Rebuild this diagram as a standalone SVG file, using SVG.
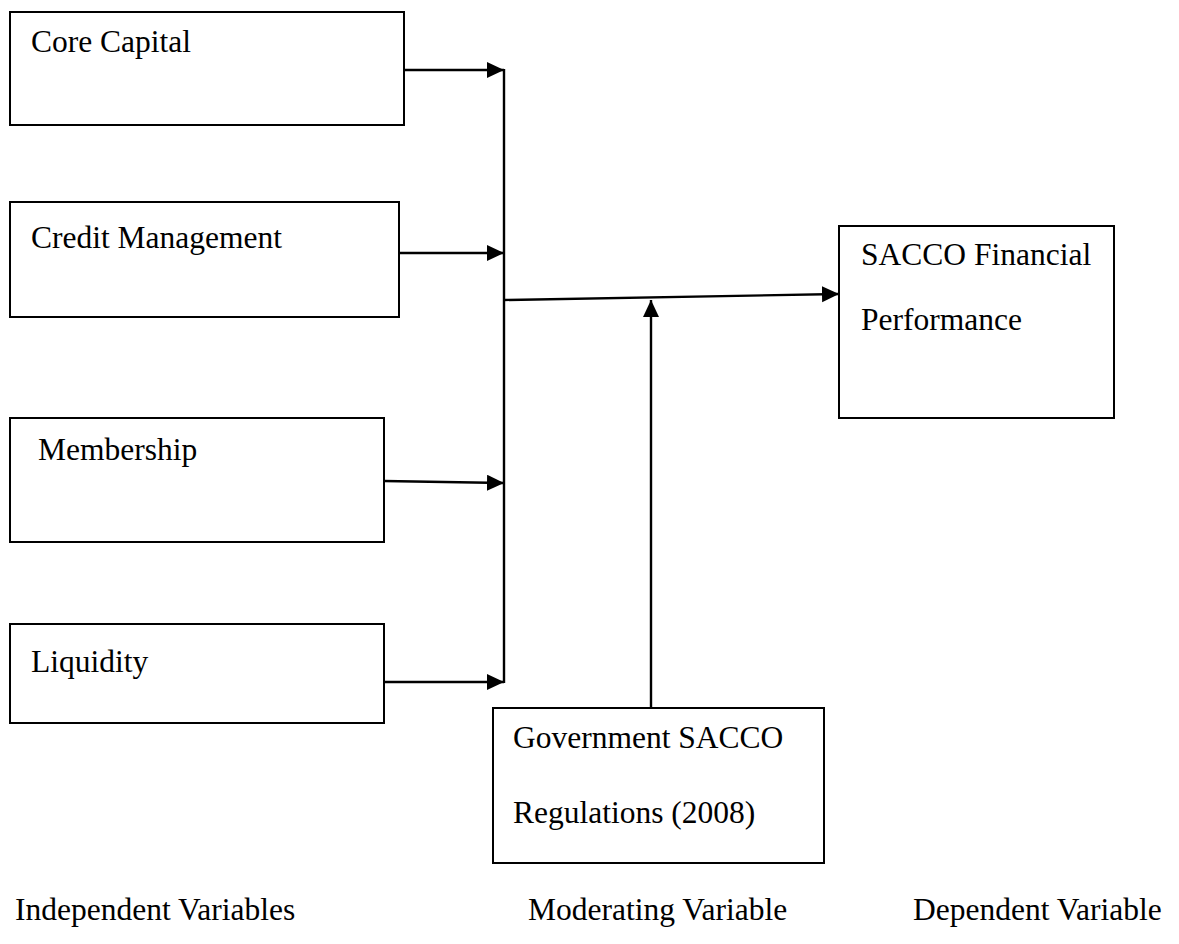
<svg xmlns="http://www.w3.org/2000/svg" width="1179" height="944" viewBox="0 0 1179 944">
<style>
.box{fill:#fff;stroke:#000;stroke-width:2}
.t{font-family:"Liberation Serif","Times New Roman",serif;font-size:31.5px;fill:#000}
.ln{fill:none;stroke:#000;stroke-width:2.4}
</style>
<defs>
<marker id="ah" markerUnits="userSpaceOnUse" markerWidth="20" markerHeight="18" refX="17" refY="8" orient="auto">
<path d="M0,0 L17,8 L0,16 Z" fill="#000"/>
</marker>
</defs>
<rect width="1179" height="944" fill="#fff"/>
<g id="core-capital">
<rect class="box" x="10" y="12" width="394" height="113"/>
<text class="t" x="31" y="52">Core Capital</text>
</g>
<g id="credit-management">
<rect class="box" x="10" y="202" width="389" height="115"/>
<text class="t" x="31" y="248">Credit Management</text>
</g>
<g id="membership">
<rect class="box" x="10" y="418" width="374" height="124"/>
<text class="t" x="38" y="460">Membership</text>
</g>
<g id="liquidity">
<rect class="box" x="10" y="624" width="374" height="99"/>
<text class="t" x="31" y="672">Liquidity</text>
</g>
<g id="sacco-performance">
<rect class="box" x="839" y="226" width="275" height="192"/>
<text class="t" x="861" y="265">SACCO Financial</text>
<text class="t" x="861" y="330">Performance</text>
</g>
<g id="government-regulations">
<rect class="box" x="493" y="708" width="331" height="155"/>
<text class="t" x="513" y="748">Government SACCO</text>
<text class="t" x="513" y="823">Regulations (2008)</text>
</g>
<g id="connectors">
<line class="ln" x1="504" y1="69" x2="504" y2="683"/>
<line class="ln" x1="404" y1="70" x2="504" y2="70" marker-end="url(#ah)"/>
<line class="ln" x1="399" y1="253" x2="504" y2="253" marker-end="url(#ah)"/>
<line class="ln" x1="384" y1="481" x2="504" y2="483" marker-end="url(#ah)"/>
<line class="ln" x1="384" y1="682" x2="504" y2="682" marker-end="url(#ah)"/>
<line class="ln" x1="504" y1="300" x2="839" y2="294" marker-end="url(#ah)"/>
<line class="ln" x1="651" y1="708" x2="651" y2="300" marker-end="url(#ah)"/>
</g>
<g id="labels">
<text class="t" x="15" y="920">Independent Variables</text>
<text class="t" x="528" y="920">Moderating Variable</text>
<text class="t" x="913" y="920">Dependent Variable</text>
</g>
</svg>
